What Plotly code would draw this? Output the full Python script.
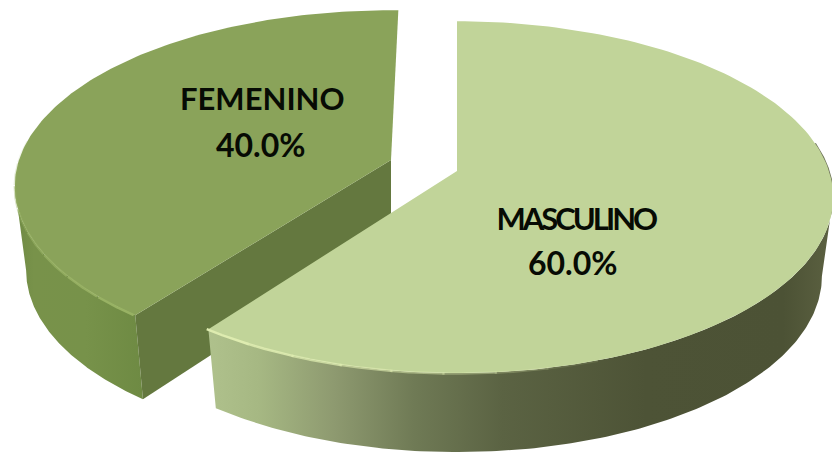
import numpy as np
import plotly.graph_objects as go

categories = ["MASCULINO", "FEMENINO"]
shares = [60.0, 40.0]

A, B, K = 372.0, 172.0, 0.149
BASE_TAPER = 0.97


def project(phi_deg, cx, cy, a=A, b=B, k=K):
    t = np.radians(phi_deg)
    u, v = np.sin(t), -np.cos(t)
    w = 1 - k * v
    return cx + a * u / w, cy + b * v / w


def arc(p0, p1, cx, cy, dy=0.0, n=160, a=A):
    x, y = project(np.linspace(p0, p1, n), cx, cy, a=a)
    return x, y + dy


fig = go.Figure()


def poly(x, y, color=None, grad=None):
    kw = dict(fillgradient=grad) if grad else dict(fillcolor=color)
    fig.add_trace(go.Scatter(x=list(x), y=list(y), mode="lines", fill="toself",
                             line=dict(width=0, color="rgba(0,0,0,0)"), hoverinfo="skip",
                             showlegend=False, **kw))


def stroke(x, y, color, width):
    fig.add_trace(go.Scatter(x=list(x), y=list(y), mode="lines", line=dict(color=color, width=width),
                             hoverinfo="skip", showlegend=False))


def fading(p0, p1, cx, cy, rgb, width, parts=8):
    """Bevel highlight that fades from p1 (strong) to p0 (none)."""
    edges = np.linspace(p0, p1, parts + 1)
    for i in range(parts):
        x, y = arc(edges[i], edges[i + 1] + 0.3, cx, cy, 0.5, n=30)
        stroke(x, y, f"rgba({rgb},{(i + 1) / parts:.2f})", width)


sweep_m = 360 * shares[0] / sum(shares)
sweep_f = 360 * shares[1] / sum(shares)
silhouette = np.degrees(np.arccos(-K))

# Femenino slice
fx, fy, fd, rot = 391.0, 160.0, 84.0, 1.3
f0, f1 = sweep_m + rot, sweep_m + sweep_f + rot
x1, y1 = arc(f0, 360 - silhouette, fx, fy)
x2, y2 = arc(360 - silhouette, f0, fx, fy, fd, a=A * BASE_TAPER)
poly(np.r_[x1, x2], np.r_[y1, y2], grad=dict(type="horizontal", colorscale=[
    [0, "#6f8a44"], [0.15, "#78924a"], [0.55, "#77924a"], [1, "#6e8a43"]]))
cx_, cy_ = project(f0, fx, fy)
bx_, by_ = project(f0, fx, fy, a=A * BASE_TAPER)
poly([fx, cx_, bx_, fx], [fy, cy_, by_ + fd, fy + fd - 6], color="#64783f")
x3, y3 = arc(f0, f1, fx, fy)
poly(np.r_[fx, x3], np.r_[fy, y3], color="#8aa35a")
fading(360 - silhouette + 15, f0, fx, fy, "152,178,100", 2.5)

# Masculino slice
mx, my, md = 457.0, 171.0, 79.0
m0, m1 = 0.0, sweep_m
x1, y1 = arc(silhouette, m1, mx, my)
x2, y2 = arc(m1, silhouette, mx, my, md, a=A * BASE_TAPER)
poly(np.r_[x1, x2], np.r_[y1, y2], grad=dict(type="horizontal", colorscale=[
    [0, "#afc18c"], [0.08, "#a6b883"], [0.2, "#8e9a70"], [0.33, "#6f7a55"],
    [0.47, "#5b6343"], [0.7, "#4d5336"], [0.92, "#4c5235"], [1, "#5c6141"]]))
xe, ye = arc(silhouette - 18, silhouette, mx, my)
stroke(xe, ye, "#6d7258", 1.5)
x3, y3 = arc(m0, m1, mx, my)
poly(np.r_[mx, x3], np.r_[my, y3], color="#c1d499")
fading(m1 - 55, m1, mx, my, "222,236,176", 2.5)

labels = [
    (categories[1], 262, 98, 31), (f"{shares[1]:.1f}%", 261, 144, 32),
    (categories[0], 576, 218, 31), (f"{shares[0]:.1f}%", 573, 262, 32),
]
for text, x, y, size in labels:
    fig.add_annotation(x=x, y=y, text=f"<b>{text}</b>", showarrow=False,
                       font=dict(family="Lato", size=size, color="#070b04"))

fig.update_layout(
    width=832, height=453, margin=dict(l=0, r=0, t=0, b=0),
    paper_bgcolor="white", plot_bgcolor="white", showlegend=False,
    xaxis=dict(range=[0, 832], visible=False, fixedrange=True),
    yaxis=dict(range=[453, 0], visible=False, fixedrange=True),
)
page_js = """
document.body.style.margin = '0';
document.body.style.overflow = 'hidden';
document.querySelectorAll('.annotation-text').forEach(function (t) {
  if (t.textContent.indexOf('MASCULINO') >= 0) { t.style.letterSpacing = '-3px'; }
});
"""
fig.write_html("out.html", config=dict(displayModeBar=False), post_script=page_js)
